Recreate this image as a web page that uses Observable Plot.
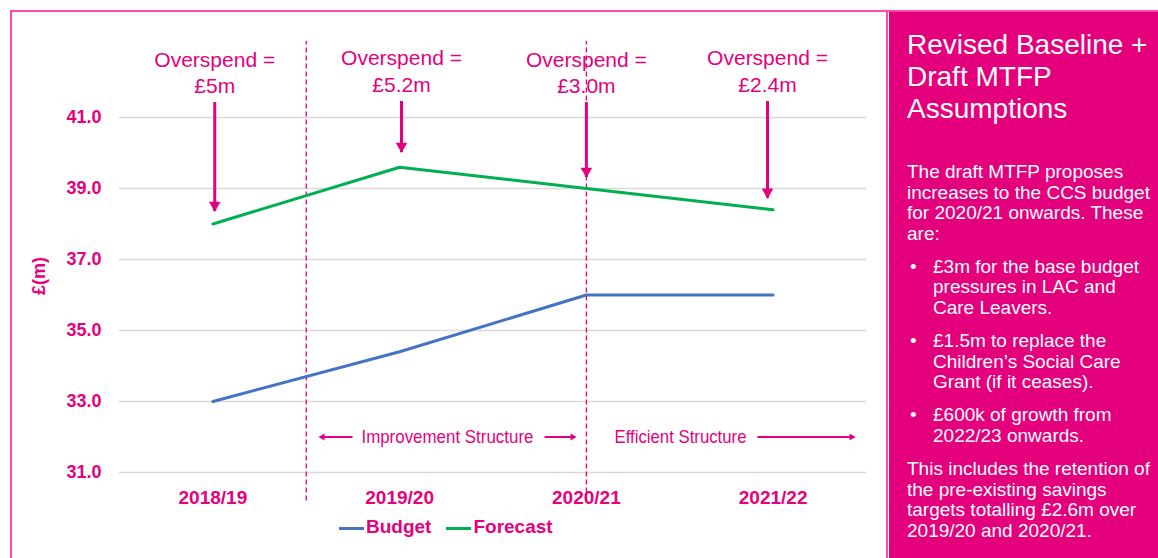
<!DOCTYPE html>
<html><head><meta charset="utf-8">
<script src="https://cdn.jsdelivr.net/npm/d3@7"></script>
<script src="https://cdn.jsdelivr.net/npm/@observablehq/plot@0.6"></script>
<style>
body{margin:0;background:#fff;font-family:"Liberation Sans",Arial,sans-serif;}
#wrap{position:relative;width:1158px;height:558px;overflow:hidden;}
#frame{position:absolute;left:10px;top:10px;width:874px;height:570px;border:2px solid #ff4aa8;}
#topline{position:absolute;left:10px;top:10px;width:1148px;height:2px;background:#ff4aa8;}
#chart{position:absolute;left:0;top:0;}
#legend{position:absolute;left:339px;top:517px;display:flex;font-weight:bold;font-size:19px;line-height:19px;color:#e5007d;}
#legend .item{display:flex;align-items:center;margin-right:15px;}
#legend .sw{width:25px;height:3px;margin-right:2px;margin-top:3px;}
#panel{position:absolute;left:889px;top:12px;width:269px;height:546px;background:#e4007c;color:#fff;box-sizing:border-box;padding:17px 0 0 18px;}
#panel .title{font-size:28px;line-height:32px;white-space:nowrap;margin-bottom:37px;}
#panel .p{font-size:19px;line-height:20.6px;white-space:nowrap;margin-bottom:12.5px;position:relative;}
#panel .bullet{padding-left:26px;}
#panel .bullet::before{content:"•";position:absolute;left:3px;top:0;}
</style>
</head><body>
<div id="wrap">
  <div id="frame"></div>
  <div id="topline"></div>
  <div id="chart"></div>
  <div id="legend"></div>
  <div id="panel"></div>
</div>
<script>
// ---- data ----
const years = ["2018/19", "2019/20", "2020/21", "2021/22"];
const budget = [33.0, 34.4, 36.0, 36.0];
const forecast = [38.0, 39.6, 39.0, 38.4];
const yTicks = [31, 33, 35, 37, 39, 41];
const seriesNames = ["Budget", "Forecast"];
const seriesColors = ["#4472c4", "#00b050"];

// overspend annotations (data space)
const overspendLabels = ["£5m", "£5.2m", "£3.0m", "£2.4m"];
const overspendX = [0.01, 1.01, 2, 2.97];
const arrowTop = [41.42, 41.45, 41.42, 41.45];
const arrowTip = [38.35, 40.01, 39.31, 38.72];

// period dividers and phase annotations
const dividerX = [0.5, 2];
const dividerY = [30.2, 43.15];
const phaseLabels = ["Improvement Structure", "Efficient Structure"];
const phaseLabelX = [1.256, 2.504];
const phaseLabelWidth = [172, 132];
const phaseY = 32.0;
const arrowFrom = [0.748, 1.776, 2.916];
const arrowTo = [0.587, 1.926, 3.42];

// side panel text
const panelTitle = ["Revised Baseline +", "Draft MTFP", "Assumptions"];
const panelParas = [
  {bullet: false, lines: ["The draft MTFP proposes", "increases to the CCS budget", "for 2020/21 onwards. These", "are:"]},
  {bullet: true, lines: ["£3m for the base budget", "pressures in LAC and", "Care Leavers."]},
  {bullet: true, lines: ["£1.5m to replace the", "Children’s Social Care", "Grant (if it ceases)."]},
  {bullet: true, lines: ["£600k of growth from", "2022/23 onwards."]},
  {bullet: false, lines: ["This includes the retention of", "the pre-existing savings", "targets totalling £2.6m over", "2019/20 and 2020/21."]}
];

const pink = "#e5007d";
const idx = years.map((d, i) => i);

const chart = Plot.plot({
  width: 888,
  height: 558,
  marginLeft: 119,
  marginRight: 22,
  marginTop: 117,
  marginBottom: 86,
  style: {fontFamily: "'Liberation Sans', Arial, sans-serif", color: pink, background: "transparent", overflow: "visible"},
  x: {type: "linear", domain: [-0.5, 3.5]},
  y: {domain: [31, 41]},
  marks: [
    Plot.gridY(yTicks, {stroke: "#d9d9d9", strokeOpacity: 1, strokeWidth: 1.5}),
    Plot.axisY(yTicks, {tickSize: 0, tickPadding: 18, tickFormat: d => d.toFixed(1), fontWeight: "bold", fontSize: 18, label: null, fill: pink}),
    Plot.axisX(idx, {tickSize: 0, tickPadding: 17.5, tickFormat: i => years[i], fontWeight: "bold", fontSize: 19, label: null, fill: pink}),
    Plot.ruleX(dividerX, {x: d => d, y1: dividerY[0], y2: dividerY[1], stroke: pink, strokeWidth: 1.3, strokeDasharray: "5,3"}),
    Plot.line(budget, {x: (d, i) => i, y: d => d, stroke: seriesColors[0], strokeWidth: 3}),
    Plot.line(forecast, {x: (d, i) => i, y: d => d, stroke: seriesColors[1], strokeWidth: 3}),
    Plot.ruleX(overspendX, {x: d => d, y1: (d, i) => arrowTop[i], y2: (d, i) => arrowTip[i], stroke: pink, strokeWidth: 3}),
    Plot.dot(overspendX, {x: d => d, y: (d, i) => arrowTip[i], symbol: "triangle", r: 4.3, rotate: 180, fill: pink, stroke: null, dy: -6.5}),
    Plot.text(overspendX, {x: d => d, y: (d, i) => arrowTop[i], text: (d, i) => "Overspend =\n" + overspendLabels[i], lineAnchor: "bottom", dy: -10, fill: pink, fontSize: 21, lineHeight: 1.24}),
    Plot.link(arrowFrom, {x1: d => d, x2: (d, i) => arrowTo[i], y1: phaseY, y2: phaseY, stroke: pink, strokeWidth: 2}),
    Plot.dot(arrowTo, {x: d => d, y: phaseY, symbol: "triangle", r: 2.6, rotate: (d, i) => d > arrowFrom[i] ? 90 : -90, fill: pink, stroke: null}),
    Plot.text(phaseLabels, {x: (d, i) => phaseLabelX[i], y: phaseY, text: d => d, fill: pink, fontSize: 19}),
    Plot.text(["£(m)"], {text: d => d, frameAnchor: "left", dx: -80, rotate: -90, fontWeight: "bold", fontSize: 18, fill: pink})
  ]
});
// condense the phase labels (narrow typeface in the original)
d3.select(chart).selectAll("text").each(function() {
  const k = phaseLabels.indexOf(this.textContent);
  if (k >= 0) {
    this.setAttribute("textLength", phaseLabelWidth[k]);
    this.setAttribute("lengthAdjust", "spacingAndGlyphs");
  }
});
document.getElementById("chart").appendChild(chart);

// legend
const legend = document.getElementById("legend");
seriesNames.forEach((name, i) => {
  const item = document.createElement("div");
  item.className = "item";
  const sw = document.createElement("div");
  sw.className = "sw";
  sw.style.background = seriesColors[i];
  const t = document.createElement("span");
  t.textContent = name;
  item.appendChild(sw); item.appendChild(t);
  legend.appendChild(item);
});

// side panel
const panel = document.getElementById("panel");
const title = document.createElement("div");
title.className = "title";
panelTitle.forEach((line, j) => {
  if (j) title.appendChild(document.createElement("br"));
  title.appendChild(document.createTextNode(line));
});
panel.appendChild(title);
panelParas.forEach(p => {
  const el = document.createElement("div");
  el.className = "p" + (p.bullet ? " bullet" : "");
  p.lines.forEach((line, j) => {
    if (j) el.appendChild(document.createElement("br"));
    el.appendChild(document.createTextNode(line));
  });
  panel.appendChild(el);
});
</script>
</body></html>
